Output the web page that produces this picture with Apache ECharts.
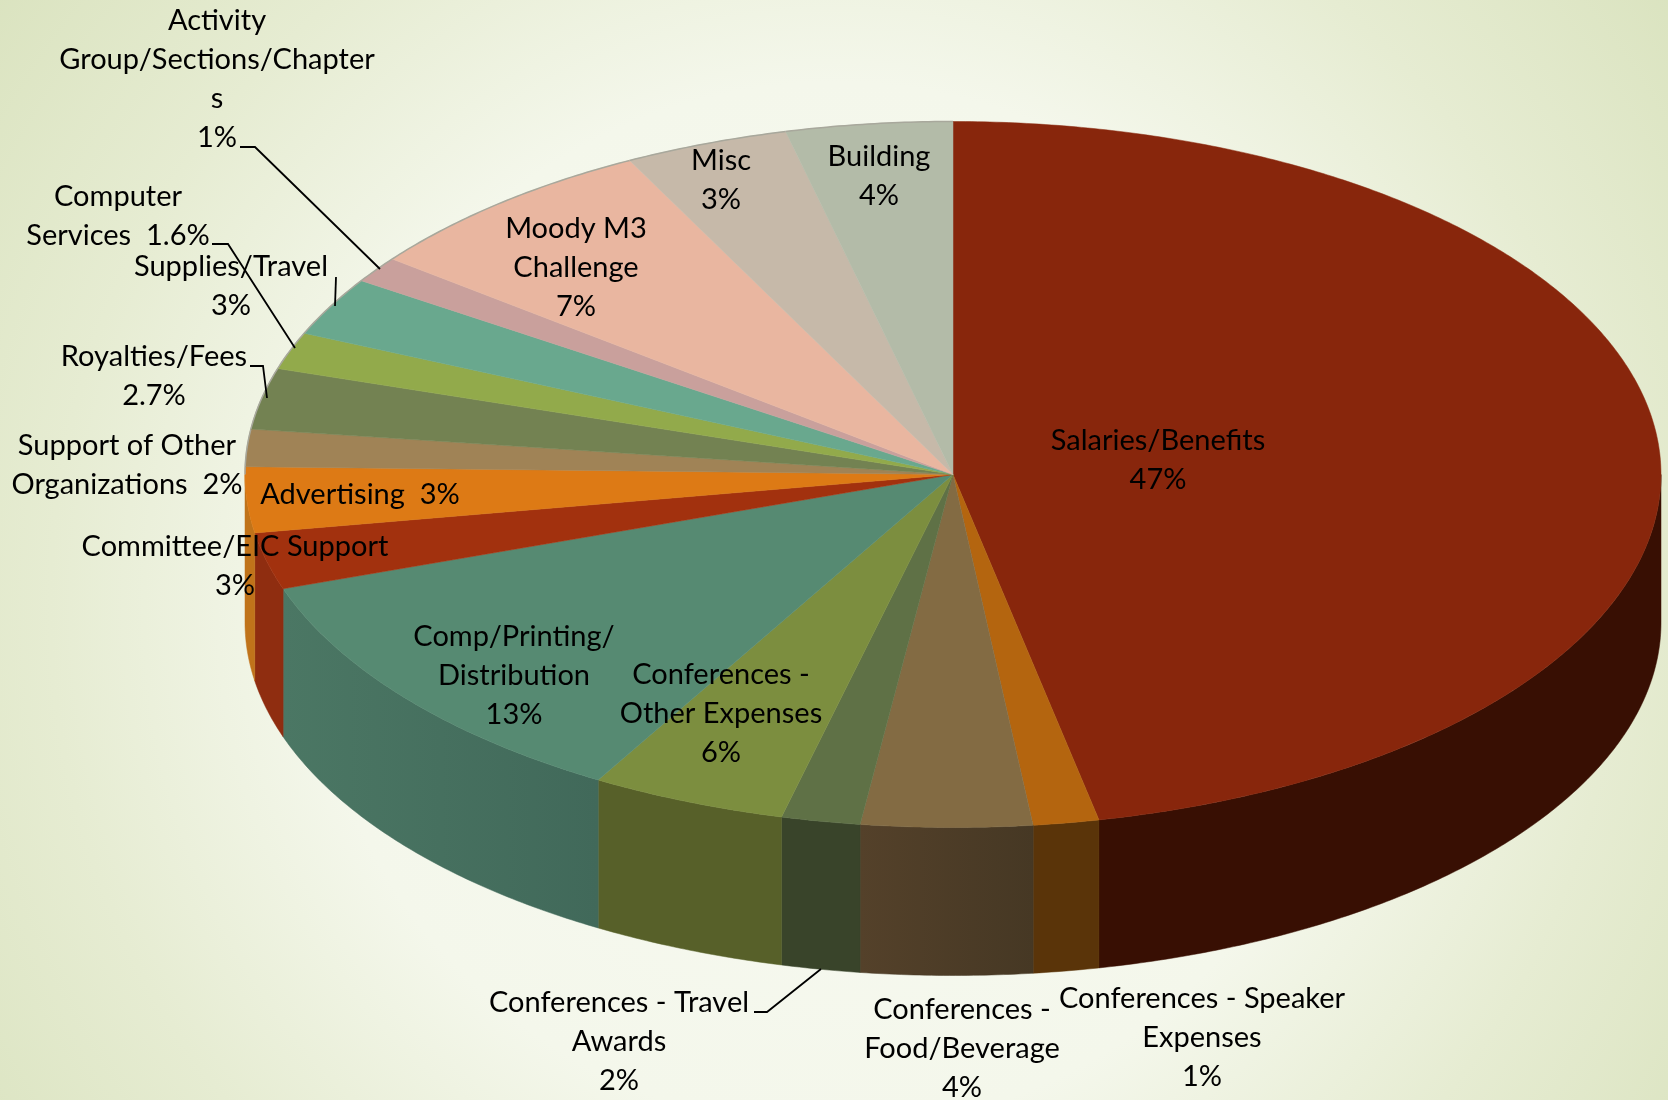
<!DOCTYPE html>
<html>
<head>
<meta charset="utf-8">
<style>
  html, body { margin: 0; padding: 0; }
  #chartWrap { width: 1668px; height: 1100px; }
</style>
<script src="https://cdn.jsdelivr.net/npm/echarts@6/dist/echarts.min.js"></script>
</head>
<body>
<div id="chartWrap"></div>
<script>
// clockwise from 12 o'clock
var categories = ["Salaries/Benefits", "Conferences - Speaker Expenses", "Conferences - Food/Beverage",
  "Conferences - Travel Awards", "Conferences - Other Expenses", "Comp/Printing/Distribution",
  "Committee/EIC Support", "Advertising", "Support of Other Organizations", "Royalties/Fees",
  "Computer Services", "Supplies/Travel", "Activity Group/Sections/Chapters", "Moody M3 Challenge",
  "Misc", "Building"];
// slice sizes as drawn (the printed percents do not quite add up)
var shares = [46.7, 1.5, 3.9, 1.8, 4.46, 11.4, 2.6, 3, 1.7, 2.8, 1.7, 2.7, 1.2, 7, 3.75, 3.8];
var labelTexts = ["Salaries/Benefits\n47%", "Conferences - Speaker\nExpenses\n1%", "Conferences -\nFood/Beverage\n4%",
  "Conferences - Travel\nAwards\n2%", "Conferences -\nOther Expenses\n6%", "Comp/Printing/\nDistribution\n13%",
  "Committee/EIC Support\n3%", "Advertising  3%", "Support of Other\nOrganizations  2%", "Royalties/Fees\n2.7%",
  "Computer\nServices  1.6%", "Supplies/Travel\n3%", "Activity\nGroup/Sections/Chapter\ns\n1%", "Moody M3\nChallenge\n7%",
  "Misc\n3%", "Building\n4%"];

var topColors = ["#88260C", "#B4650F", "#836B43", "#5F7146", "#7C8E3F", "#568A72", "#A2310E", "#DD7A15",
  "#A08356", "#738252", "#92AA4B", "#69A88E", "#C9A09C", "#E9B6A0", "#C6B9A9", "#B3BBA8"];
// left and right end of each wall, only the big front ones really vary
var wallLeft = ["#380F03", "#5A3409", "#54412A", "#39442A", "#576029", "#4B7764", "#8F2D10", "#C0731A",
  "#8A704A", "#62704A", "#7D9240", "#5A907A", "#AD8A86", "#C99D8A", "#AA9F92", "#9AA190"];
var wallRight = ["#380F03", "#5A3409", "#463824", "#39442A", "#576029", "#41695A", "#8F2D10", "#C0731A",
  "#8A704A", "#62704A", "#7D9240", "#5A907A", "#AD8A86", "#C99D8A", "#AA9F92", "#9AA190"];

var labelSpots = [[1158, 460], [1202, 1038], [962, 1049], [619, 1042], [721, 714], [514, 676], [235, 566], [360, 495],
  [127, 465], [154, 376], [118, 216], [231, 286], [217, 79], [576, 268], [721, 180], [879, 176]];
var leaderLines = [
  [[240, 147], [255, 147], [380, 269]],
  [[212, 244], [228, 244], [295, 348]],
  [[336, 277], [335, 306]],
  [[250, 366], [263, 366], [267, 398]],
  [[754, 1012], [767, 1012], [821, 969]]
];

var cx = 953, cy = 474.5, rx = 708, ry = 353, depth = 148;

var total = 0;
var startAngles = [];
for (var i = 0; i < shares.length; i++) {
  startAngles[i] = total;
  total += shares[i];
}

function rimPoint(deg, dy) {
  var r = deg * Math.PI / 180;
  return [cx + rx * Math.sin(r), cy - ry * Math.cos(r) + dy];
}

function rimPoints(from, to, dy) {
  var pts = [];
  var n = Math.max(2, Math.ceil((to - from) * 2));
  for (var k = 0; k <= n; k++) {
    pts.push(rimPoint(from + (to - from) * k / n, dy));
  }
  return pts;
}

function renderSlice(params, api) {
  var i = params.dataIndex;
  var from = startAngles[i] / total * 360;
  var to = (startAngles[i] + api.value(0)) / total * 360;
  var children = [];
  // the wall only shows on the front half of the rim
  var wFrom = Math.max(from, 90), wTo = Math.min(to, 270);
  if (wTo > wFrom) {
    children.push({
      type: 'polygon',
      shape: { points: rimPoints(wFrom, wTo, 0).concat(rimPoints(wFrom, wTo, depth).reverse()) },
      style: {
        fill: new echarts.graphic.LinearGradient(0, 0, 1, 0, [
          { offset: 0, color: wallLeft[i] },
          { offset: 1, color: wallRight[i] }
        ]),
        stroke: wallRight[i],
        lineWidth: 0.5
      }
    });
  }
  children.push({
    type: 'polygon',
    shape: { points: [[cx, cy]].concat(rimPoints(from, to, 0)) },
    style: { fill: topColors[i], stroke: topColors[i], lineWidth: 0.5 }
  });
  // thin grey edge along the back of the disc
  var bFrom = Math.max(from, 270);
  if (to > bFrom) {
    children.push({
      type: 'polyline',
      shape: { points: rimPoints(bFrom, to, 0) },
      style: { fill: null, stroke: '#A8A89C', lineWidth: 1.5 }
    });
  }
  return { type: 'group', children: children };
}

function renderLabel(params, api) {
  var i = params.dataIndex;
  return {
    type: 'text',
    z2: 10,
    style: {
      x: labelSpots[i][0],
      y: labelSpots[i][1],
      text: labelTexts[i],
      align: 'center',
      verticalAlign: 'middle',
      fill: '#000000',
      font: '29px Lato',
      lineHeight: 39
    }
  };
}

function renderLeader(params, api) {
  return {
    type: 'polyline',
    shape: { points: leaderLines[params.dataIndex] },
    style: { fill: null, stroke: '#000000', lineWidth: 1.8 }
  };
}

var chart = echarts.init(document.getElementById('chartWrap'), null, { renderer: 'canvas' });
chart.setOption({
  animation: false,
  backgroundColor: {
    type: 'radial', x: 0.5, y: 0.55, r: 0.95,
    colorStops: [
      { offset: 0, color: '#F8FAF3' },
      { offset: 0.5, color: '#F4F7EB' },
      { offset: 0.75, color: '#E6ECD2' },
      { offset: 1, color: '#DAE3BF' }
    ]
  },
  series: [{
    type: 'custom',
    coordinateSystem: 'none',
    renderItem: renderSlice,
    data: shares.map(function(v, i) { return { name: categories[i], value: [v] }; }),
    z: 1
  }, {
    type: 'custom',
    coordinateSystem: 'none',
    renderItem: renderLeader,
    data: leaderLines.map(function(v, i) { return [i]; }),
    z: 2
  }, {
    type: 'custom',
    coordinateSystem: 'none',
    renderItem: renderLabel,
    data: labelTexts.map(function(v, i) { return [i]; }),
    z: 3
  }]
});
</script>
</body>
</html>
